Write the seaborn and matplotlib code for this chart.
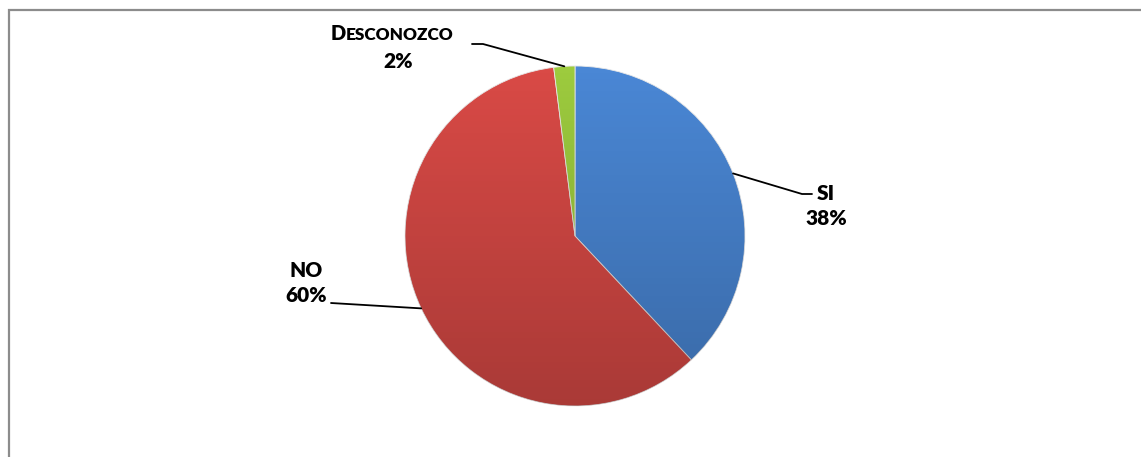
import matplotlib
matplotlib.use("Agg")
import matplotlib.pyplot as plt
import numpy as np
import seaborn as sns
from matplotlib.patches import Circle, Rectangle

categories = ['SI', 'NO', 'DESCONOZCO']
values = [38, 60, 2]
pct_labels = ['38%', '60%', '2%']
colors = ['#4A87D5', '#D94A46', '#9DCB3E']

sns.set_theme(style="white")
plt.rcParams['font.family'] = ['Lato', 'DejaVu Sans']

W, H = 1141, 457
fig = plt.figure(figsize=(W / 100, H / 100), dpi=100)

# pie centre and radius in pixels
cx, cy, r = 575, 236, 170
ax = fig.add_axes([(cx - r) / W, (H - cy - r) / H, 2 * r / W, 2 * r / H])
wedges, _ = ax.pie(values, colors=colors, startangle=90, counterclock=False,
                   radius=1, wedgeprops=dict(linewidth=0.6, edgecolor='#e8e8e8'))
ax.set_xlim(-1, 1)
ax.set_ylim(-1, 1)
ax.set_aspect('equal')
ax.axis('off')

# soft shading, lighter at the top, darker at the bottom
grad = np.zeros((200, 200, 4))
yy = np.linspace(0, 1, 200)[:, None]
grad[..., 3] = 0.22 * yy
img = ax.imshow(grad, extent=(-1, 1, -1, 1), origin='upper', zorder=3)
img.set_clip_path(Circle((0, 0), 1, transform=ax.transData))


def px(x, y):
    return (x - cx) / r, (cy - y) / r


# wedge mid angles -> leader line start points
fracs = np.array(values) / sum(values)
starts = 90 - 360 * np.concatenate([[0], np.cumsum(fracs)[:-1]])
mids = np.deg2rad(starts - 180 * fracs)
edge_pts = [(np.cos(a), np.sin(a)) for a in mids]

# leader line bends and label positions (pixels)
bends = [[(802, 194), (812, 194)], [(331, 303)], [(483, 44), (472, 44)]]
label_pos = [(826, 206), (306, 283), (398, 47)]

for i, cat in enumerate(categories):
    pts = [edge_pts[i]] + [px(*b) for b in bends[i]]
    xs, ys = zip(*pts)
    ax.plot(xs, ys, color='black', lw=1.3, clip_on=False, zorder=4)

tkw = dict(fontsize=15, fontweight='heavy', color='black', clip_on=False)
for i, cat in enumerate(categories):
    lx, ly = label_pos[i]
    if cat == 'DESCONOZCO':
        # small caps look
        x0, y0 = px(346, 40)
        ax.text(x0, y0, cat[0], ha='right', va='baseline', **{**tkw, 'fontsize': 14.5})
        ax.text(x0, y0, cat[1:], ha='left', va='baseline', **{**tkw, 'fontsize': 12.3})
        ax.text(*px(lx, 62), pct_labels[i], ha='center', va='center', **tkw)
    else:
        ax.text(*px(lx, ly), f"{cat}\n{pct_labels[i]}", ha='center', va='center',
                linespacing=1.35, **tkw)

# chart frame (only top and left edges fall inside the image)
fig.patches.append(Rectangle((8.5 / W, -0.1), 1.2, 1 - 9.5 / H + 0.1, transform=fig.transFigure,
                             fill=False, edgecolor='#8c8c8c', linewidth=1.6))

fig.savefig('out.png', dpi=100, facecolor='white')
